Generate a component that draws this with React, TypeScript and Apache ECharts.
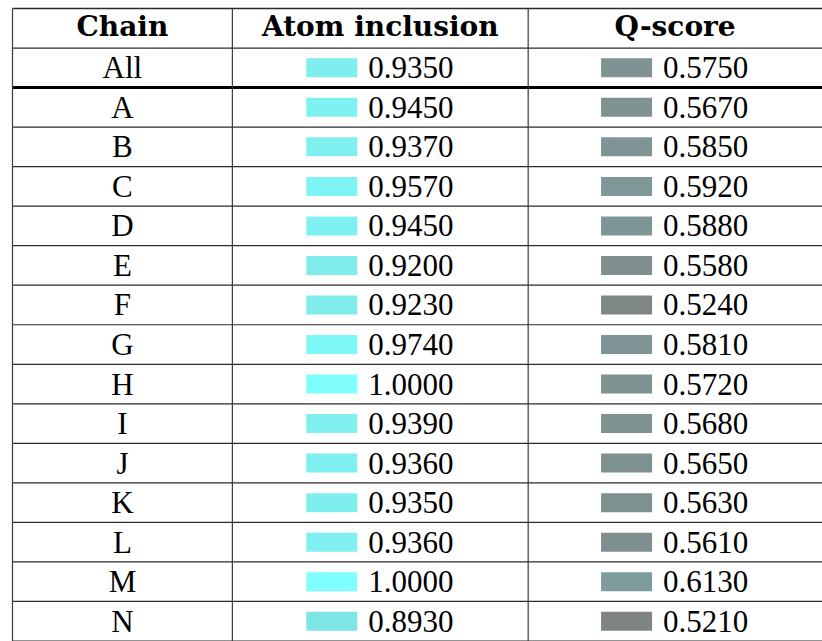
import React, { useEffect, useRef } from "react";
import * as echarts from "echarts";

const headers = ["Chain", "Atom inclusion", "Q-score"];
const chains = ["All", "A", "B", "C", "D", "E", "F", "G", "H", "I", "J", "K", "L", "M", "N"];
const atomInclusion = [0.935, 0.945, 0.937, 0.957, 0.945, 0.92, 0.923, 0.974, 1.0, 0.939, 0.936, 0.935, 0.936, 1.0, 0.893];
const qScore = [0.575, 0.567, 0.585, 0.592, 0.588, 0.558, 0.524, 0.581, 0.572, 0.568, 0.565, 0.563, 0.561, 0.613, 0.521];

// layout
const COL_W = [221.5, 298, 296];
const GRID_LEFT = 12.5;
const GRID_TOP = 8.5;
const ROW_H = 39.8;
const LINE = "#2b2b2b";
const BODY_FONT = '31px "Liberation Serif", serif';
const HEAD_FONT = 'bold 28px "DejaVu Serif", serif';

function swatchColor(v: number): string {
  const g = Math.max(127, Math.min(255, Math.round(127.5 + 255 * (v - 0.5))));
  return `rgb(127,${g},${g})`;
}

export default function App() {
  const ref = useRef<HTMLDivElement>(null);
  useEffect(() => {
    document.body.style.margin = "0";
    if (!ref.current) return;
    const chart = echarts.init(ref.current, null, { renderer: "svg" });
    const rowCats = ["__header__", ...chains];
    const totalW = COL_W.reduce((a, b) => a + b, 0);
    const edges = [0, COL_W[0], COL_W[0] + COL_W[1], totalW];
    const data = rowCats.map((_, i) => [i, i === 0 ? 0 : atomInclusion[i - 1], i === 0 ? 0 : qScore[i - 1]]);

    chart.setOption({
      animation: false,
      grid: { left: GRID_LEFT, top: GRID_TOP, width: totalW, height: ROW_H * rowCats.length },
      xAxis: { type: "value", min: 0, max: totalW, show: false },
      yAxis: { type: "category", data: rowCats, inverse: true, show: false },
      series: [
        {
          type: "custom",
          clip: false,
          data,
          renderItem: (params: any, api: any) => {
            const idx = api.value(0);
            const c = api.coord([0, idx]);
            const h = api.size([0, 1])[1];
            const top = c[1] - h / 2;
            const bot = c[1] + h / 2;
            const cy = c[1];
            const xs = edges.map((e) => api.coord([e, idx])[0]);
            const centers = [0, 1, 2].map((k) => (xs[k] + xs[k + 1]) / 2);
            const children: any[] = [];
            if (idx === 0) {
              children.push({
                type: "line",
                shape: { x1: xs[0], y1: top, x2: xs[3] + 5, y2: top },
                style: { stroke: LINE, lineWidth: 1.5 },
              });
              headers.forEach((t, k) => {
                children.push({
                  type: "text",
                  style: { text: t, x: centers[k], y: cy - 2, font: HEAD_FONT, fill: "#000", align: "center", verticalAlign: "middle" },
                });
              });
            } else {
              const a = api.value(1);
              const q = api.value(2);
              children.push({
                type: "text",
                style: { text: chains[idx - 1], x: centers[0], y: cy, font: BODY_FONT, fill: "#000", align: "center", verticalAlign: "middle" },
              });
              [a, q].forEach((v: number, j: number) => {
                const cx = centers[j + 1];
                children.push({
                  type: "rect",
                  shape: { x: cx - 74, y: cy - 9.5, width: 51, height: 19 },
                  style: { fill: swatchColor(v) },
                });
                children.push({
                  type: "text",
                  style: { text: v.toFixed(4), x: cx - 12, y: cy, font: BODY_FONT, fill: "#000", align: "left", verticalAlign: "middle" },
                });
              });
            }
            // bottom line
            children.push({
              type: "line",
              shape: { x1: xs[0], y1: bot, x2: xs[3] + 5, y2: bot },
              style: { stroke: idx === 1 ? "#000" : LINE, lineWidth: idx === 1 ? 3 : 1.2 },
            });
            // vertical lines
            for (let k = 0; k < 3; k++) {
              children.push({
                type: "line",
                shape: { x1: xs[k], y1: top, x2: xs[k], y2: bot },
                style: { stroke: "#3a3a3a", lineWidth: 1.2 },
              });
            }
            return { type: "group", children };
          },
        },
      ],
    });
    return () => chart.dispose();
  }, []);
  return <div ref={ref} style={{ width: 822, height: 641 }} />;
}
